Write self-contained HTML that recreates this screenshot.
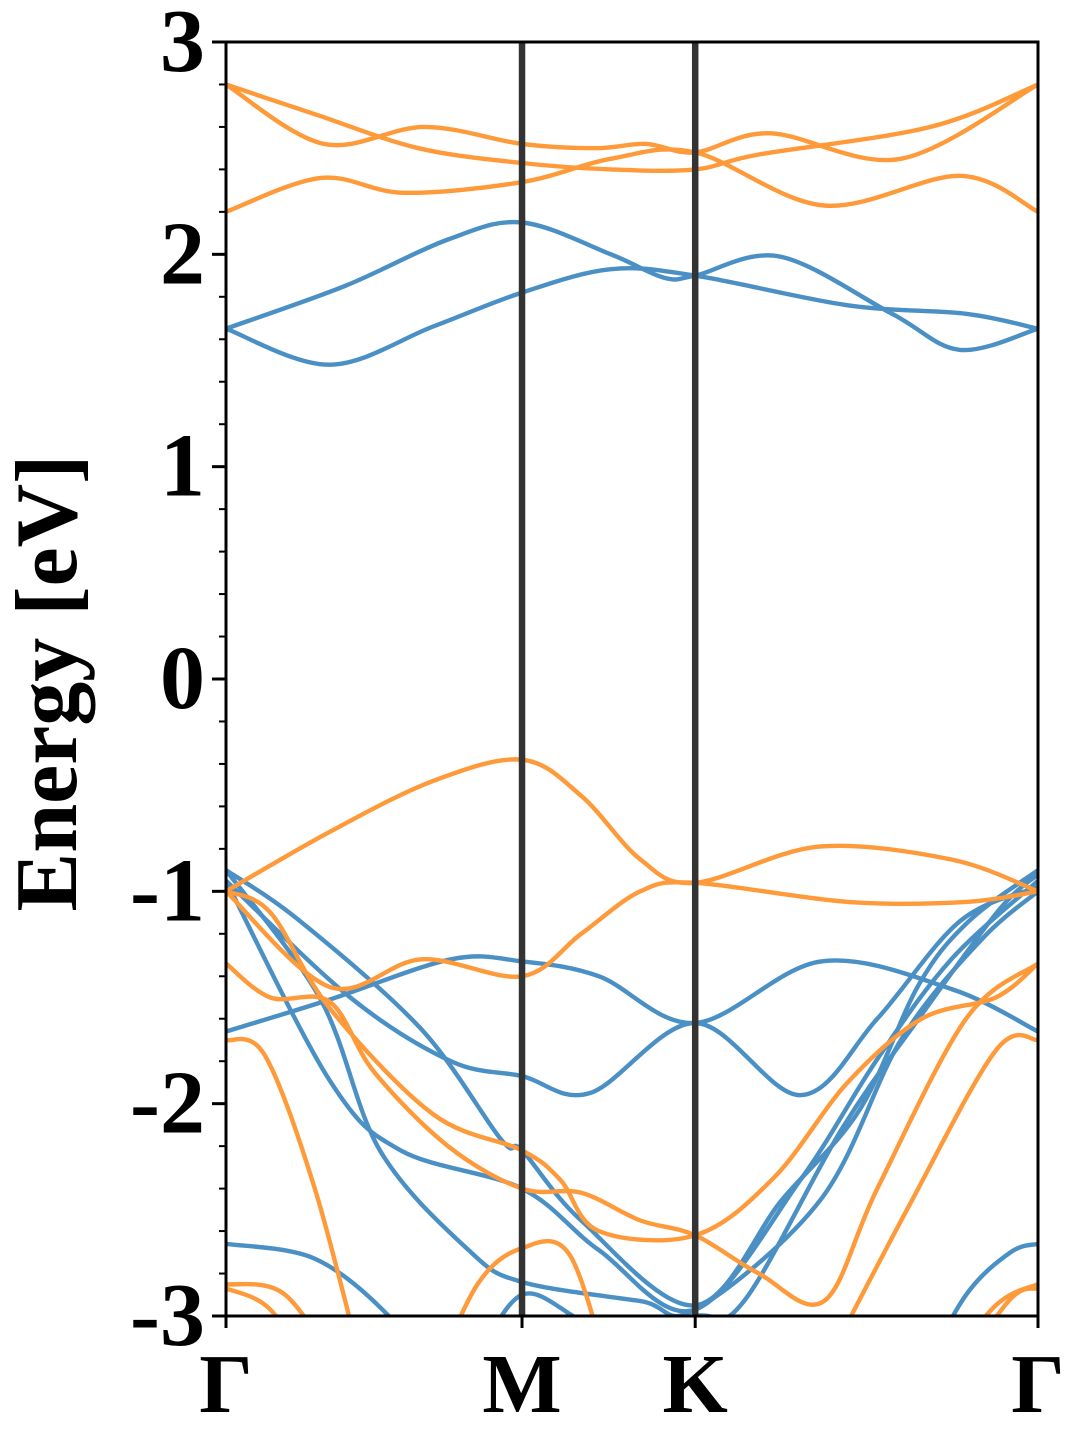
<!DOCTYPE html>
<html><head><meta charset="utf-8">
<style>
html,body{margin:0;padding:0;background:#fff;}
svg{display:block;}
text{font-family:"Liberation Serif",serif;font-weight:bold;fill:#000;}
</style></head>
<body>
<svg id="chart" width="1080" height="1440" viewBox="0 0 1080 1440" xmlns="http://www.w3.org/2000/svg">
<defs><clipPath id="plotclip"><rect x="226" y="42" width="812" height="1274"/></clipPath></defs>
<g id="bands" clip-path="url(#plotclip)"></g>
<g id="axes"></g>
</svg>
<script>
// high-symmetry points (path distance) and labels
const kLabels = ["Γ","M","K","Γ"];
const kPoints = [0, 1, 1.585, 2.743];
const yTicks = [-3,-2,-1,0,1,2,3];
const yTickLabels = ["-3","-2","-1","0","1","2","3"];
const yMin = -3, yMax = 3;

// bands: [k, energy eV]
const blueBands = [
  [[0,1.65],[0.4,1.85],[0.75,2.07],[1,2.15],[1.3,2.0],[1.48,1.89],[1.585,1.9],[1.87,1.99],[2.25,1.72],[2.48,1.55],[2.743,1.65]],
  [[0,1.65],[0.35,1.48],[0.7,1.66],[1,1.82],[1.3,1.93],[1.585,1.9],[2.1,1.76],[2.5,1.72],[2.743,1.65]],
  [[0,-1.66],[0.35,-1.51],[0.76,-1.32],[1,-1.33],[1.26,-1.4],[1.585,-1.62],[2.01,-1.33],[2.45,-1.46],[2.743,-1.66]],
  [[0,-0.95],[0.42,-1.5],[0.76,-1.8],[1,-1.87],[1.23,-1.95],[1.585,-1.62],[1.94,-1.96],[2.2,-1.6],[2.48,-1.14],[2.743,-0.98]],
  [[0,-0.9],[0.25,-1.14],[0.66,-1.65],[0.93,-2.17],[1,-2.22],[1.2,-2.55],[1.585,-2.95],[1.88,-2.45],[2.14,-2.03],[2.34,-1.44],[2.51,-1.14],[2.743,-0.9]],
  [[0,-0.95],[0.35,-1.89],[0.59,-2.22],[1,-2.4],[1.26,-2.69],[1.585,-2.97],[1.94,-2.36],[2.2,-1.79],[2.45,-1.32],[2.743,-0.95]],
  [[0,-0.9],[0.32,-1.51],[0.52,-2.22],[0.82,-2.69],[1,-2.84],[1.4,-2.93],[1.585,-2.97],[2.01,-2.45],[2.28,-1.7],[2.55,-1.23],[2.743,-1.0]],
  [[0.82,-3.3],[1,-2.9],[1.26,-3.05],[1.585,-3.0],[1.75,-2.93],[2.08,-2.12],[2.34,-1.6],[2.61,-1.09],[2.743,-0.92]],
  [[0,-2.66],[0.3,-2.73],[0.55,-3.0],[0.7,-3.3]],
  [[2.34,-3.3],[2.5,-2.9],[2.65,-2.7],[2.743,-2.66]]
];
const orangeBands = [
  [[0,2.8],[0.33,2.52],[0.67,2.6],[1,2.52],[1.25,2.5],[1.42,2.52],[1.585,2.48],[1.84,2.57],[2.28,2.45],[2.743,2.8]],
  [[0,2.8],[0.3,2.66],[0.65,2.5],[1,2.43],[1.3,2.4],[1.585,2.4],[1.8,2.47],[2.38,2.6],[2.743,2.8]],
  [[0,2.2],[0.32,2.36],[0.6,2.29],[1,2.34],[1.3,2.45],[1.585,2.48],[2.02,2.23],[2.48,2.37],[2.743,2.2]],
  [[0,-1.0],[0.35,-0.72],[0.7,-0.48],[1,-0.38],[1.2,-0.55],[1.4,-0.85],[1.585,-0.96],[2.0,-0.79],[2.45,-0.85],[2.743,-1.0]],
  [[0,-1.0],[0.35,-1.45],[0.66,-1.32],[1,-1.4],[1.2,-1.2],[1.4,-1.0],[1.585,-0.96],[2.1,-1.05],[2.5,-1.05],[2.743,-1.0]],
  [[0,-1.0],[0.15,-1.1],[0.35,-1.55],[0.7,-2.05],[1,-2.22],[1.13,-2.36],[1.26,-2.6],[1.585,-2.62],[1.85,-2.35],[2.1,-1.9],[2.35,-1.6],[2.6,-1.5],[2.743,-1.34]],
  [[0,-1.34],[0.15,-1.5],[0.35,-1.52],[0.5,-1.85],[0.75,-2.2],[1,-2.4],[1.2,-2.42],[1.4,-2.55],[1.585,-2.62],[1.8,-2.8],[2.02,-2.93],[2.2,-2.4],[2.5,-1.6],[2.743,-1.34]],
  [[0,-1.7],[0.13,-1.77],[0.3,-2.4],[0.47,-3.3]],
  [[0,-2.85],[0.2,-2.9],[0.4,-3.3]],
  [[0,-2.87],[0.15,-2.97],[0.3,-3.3]],
  [[0.7,-3.3],[0.85,-2.85],[1,-2.68],[1.16,-2.71],[1.3,-3.3]],
  [[2.0,-3.3],[2.3,-2.5],[2.6,-1.75],[2.743,-1.7]],
  [[2.4,-3.3],[2.6,-2.95],[2.743,-2.85]],
  [[2.45,-3.3],[2.65,-2.92],[2.743,-2.87]]
];

const L=226,R=1038,T=42,B=1316;
const kMax = kPoints[kPoints.length-1];
function xs(k){return L+(R-L)*k/kMax;}
function ys(e){return T+(B-T)*(yMax-e)/(yMax-yMin);}
const NS="http://www.w3.org/2000/svg";
function mk(tag,attrs,parent){const el=document.createElementNS(NS,tag);for(const a in attrs)el.setAttribute(a,attrs[a]);parent.appendChild(el);return el;}
function pathD(pts){
  const p=pts.map(q=>[xs(q[0]),ys(q[1])]);
  let d="M"+p[0][0].toFixed(1)+","+p[0][1].toFixed(1);
  for(let i=0;i<p.length-1;i++){
    const p0=p[i-1]||p[i],p1=p[i],p2=p[i+1],p3=p[i+2]||p[i+1];
    const c1=[p1[0]+(p2[0]-p0[0])/6,p1[1]+(p2[1]-p0[1])/6];
    const c2=[p2[0]-(p3[0]-p1[0])/6,p2[1]-(p3[1]-p1[1])/6];
    d+="C"+c1[0].toFixed(1)+","+c1[1].toFixed(1)+" "+c2[0].toFixed(1)+","+c2[1].toFixed(1)+" "+p2[0].toFixed(1)+","+p2[1].toFixed(1);
  }
  return d;
}
const bg=document.getElementById('bands');
const ax=document.getElementById('axes');
blueBands.forEach((b,i)=>{
  const el=mk('path',{d:pathD(b),fill:'none',stroke:'#4a90c4','stroke-width':4.4,'stroke-linejoin':'round'},bg);
  
  
});
orangeBands.forEach((b,i)=>{
  const el=mk('path',{d:pathD(b),fill:'none',stroke:'#ff9a3a','stroke-width':4.4,'stroke-linejoin':'round'},bg);
  
  
});
kPoints.forEach((k,i)=>{
  if(i>0&&i<kPoints.length-1){
    const el=mk('line',{x1:xs(k),x2:xs(k),y1:T,y2:B,stroke:'#333','stroke-width':6.5},ax);
    
    
  }
  const t=mk('line',{x1:xs(k),x2:xs(k),y1:B,y2:B+12,stroke:'#000','stroke-width':3},ax);
  
  
  const tx=mk('text',{x:xs(k),y:1412,'text-anchor':'middle','font-size':84},ax);
  tx.textContent=kLabels[i];
  
  
});
for(let e=yMin;e<=yMax+1e-9;e+=0.2){
  const el=mk('line',{x1:L-7,x2:L,y1:ys(e),y2:ys(e),stroke:'#000','stroke-width':2},ax);
  
  
}
yTicks.forEach((v,i)=>{
  const el=mk('line',{x1:L-14,x2:L,y1:ys(v),y2:ys(v),stroke:'#000','stroke-width':3},ax);
  
  
  const t=mk('text',{x:205,y:ys(v)+29,'text-anchor':'end','font-size':90},ax);
  t.textContent=yTickLabels[i];
  
  
});
const fr=mk('rect',{x:L,y:T,width:R-L,height:B-T,fill:'none',stroke:'#000','stroke-width':3},ax);


const yl=mk('text',{x:0,y:0,'text-anchor':'middle','font-size':88,transform:'translate(76,683) rotate(-90)'},ax);
yl.textContent='Energy [eV]';


</script>
</body></html>
